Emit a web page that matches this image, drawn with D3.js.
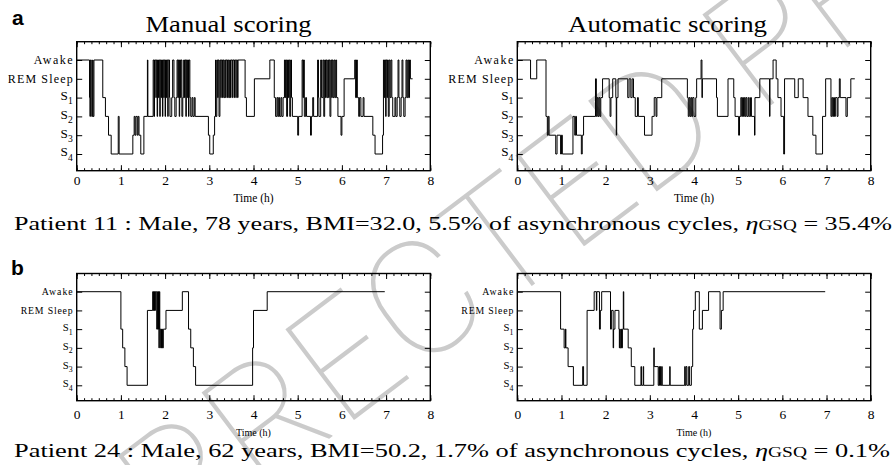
<!DOCTYPE html>
<html><head><meta charset="utf-8">
<script src="https://cdn.jsdelivr.net/npm/d3@7"></script>
<style>
body{margin:0;background:#fff} svg{display:block}
.serif{font-family:"Liberation Serif",Tinos,"Times New Roman",Times,serif}
.sans{font-family:"Liberation Sans",Arimo,Arial,Helvetica,sans-serif}
</style>
</head><body>
<svg id="c" width="893" height="465"></svg>
<script>
// Stage codes: 0=S4, 1=S3, 2=S2, 3=S1, 4=REM Sleep, 5=Awake
const stageCodes = [0,1,2,3,4,5];
const stageNames = ["S4","S3","S2","S1","REM Sleep","Awake"];
const xTickValues = [0,1,2,3,4,5,6,7,8];
const panelTitles = ["Manual scoring","Automatic scoring"];
const panelLetters = ["a","b"];
const captionMain = ["Patient 11 : Male, 78 years, BMI=32.0, 5.5% of asynchronous cycles, ",
                     "Patient 24 : Male, 62 years, BMI=50.2, 1.7% of asynchronous cycles, "];
const captionEta = ["35.4%","0.1%"];
const watermarkText = "UNCORRECTED PROOF";

// hypnograms: [time (h), stage code] change points
const p11Manual = [[0,5],
 [0.29,3],[0.30,2],[0.31,5],[0.33,3],[0.34,2],[0.36,5],[0.37,2],[0.39,5],
 [0.59,3],[0.65,2],[0.72,1],[0.78,0],[0.94,2],[0.96,0],
 [1.27,1],[1.30,2],[1.32,1],[1.34,2],[1.37,1],[1.39,2],[1.41,1],[1.45,0],[1.52,2],
 [1.60,5],[1.61,2],
 [1.73,5],[1.75,2],[1.76,5],[1.79,3],[1.80,5],[1.82,2],[1.83,5],[1.85,3],[1.86,5],[1.88,2],[1.89,5],[1.91,3],[1.92,5],[1.94,2],[1.95,5],[1.97,3],[1.98,5],[2.00,2],[2.01,5],[2.03,3],[2.04,5],[2.06,2],[2.07,5],[2.10,3],[2.11,2],[2.15,3],[2.17,5],[2.20,3],[2.22,2],[2.25,3],[2.27,5],[2.29,3],[2.30,5],[2.32,2],[2.33,5],[2.35,3],[2.36,5],[2.38,2],[2.40,3],[2.42,5],[2.44,3],[2.45,5],[2.47,2],[2.48,5],[2.50,3],[2.51,5],[2.53,2],[2.54,5],[2.56,3],[2.58,2],[2.61,3],[2.63,2],[2.66,3],[2.68,2],
 [2.98,1],[3.01,0],[3.09,1],[3.12,2],
 [3.14,5],[3.15,2],[3.17,5],[3.19,3],[3.20,5],[3.22,2],[3.24,5],[3.26,3],[3.27,5],[3.30,3],[3.31,5],[3.33,3],[3.35,5],[3.37,3],[3.38,5],[3.41,3],[3.42,5],[3.44,3],[3.46,5],[3.48,3],[3.49,5],[3.52,3],[3.53,5],[3.56,3],[3.57,5],[3.60,3],[3.61,5],[3.64,3],[3.65,5],
 [3.81,3],[3.84,2],[4.02,4],[4.37,5],[4.47,3],[4.50,2],[4.53,3],[4.55,2],[4.57,3],[4.59,2],[4.62,3],[4.64,2],[4.67,3],[4.70,5],[4.72,3],[4.73,5],[4.75,2],[4.77,5],[4.79,3],[4.80,5],[4.82,2],[4.84,5],[4.86,3],[4.88,2],[5.00,1],[5.02,2],[5.10,5],[5.12,3],[5.13,5],[5.15,2],[5.18,3],[5.20,2],[5.29,1],[5.31,2],[5.34,3],[5.36,2],[5.45,5],[5.47,3],[5.48,2],[5.52,5],[5.54,3],[5.57,5],[5.59,2],[5.61,5],[5.63,3],[5.64,5],[5.66,3],[5.68,5],[5.70,3],[5.71,5],[5.73,2],[5.75,5],[5.77,3],[5.78,5],[5.80,3],[5.82,5],[5.84,3],[5.86,5],[5.88,3],[5.91,2],[5.98,1],[6.00,2],
 [6.05,4],[6.29,5],[6.31,3],[6.33,5],[6.35,3],[6.38,2],[6.40,3],[6.43,2],[6.48,3],[6.50,2],[6.70,1],[6.75,0],[6.92,1],[6.94,5],[6.96,3],[6.97,5],[6.99,2],[7.00,5],[7.02,3],[7.03,5],[7.05,2],[7.07,5],[7.09,3],[7.11,5],[7.13,3],[7.15,2],[7.20,3],[7.22,2],[7.25,3],[7.27,5],[7.29,3],[7.31,2],[7.34,3],[7.36,5],[7.38,3],[7.40,2],[7.43,3],[7.45,5],[7.47,3],[7.49,5],[7.51,3],[7.53,5],[7.55,4],[7.60,4]];

const p11Auto = [[0,5],[0.30,4],[0.44,5],[0.65,2],[0.68,1],[0.70,2],[0.72,1],[0.87,0],[0.90,1],[0.98,0],[1.00,1],[1.02,0],
 [1.26,2],[1.30,1],[1.32,2],[1.34,1],[1.45,0],[1.47,1],[1.50,2],[1.77,4],[1.79,2],[1.81,3],[1.83,2],[1.85,3],[1.87,2],[1.89,3],[1.93,4],
 [2.08,3],[2.10,2],[2.12,3],[2.16,4],[2.23,3],[2.24,1],[2.25,3],[2.28,4],[2.50,3],[2.53,4],[2.57,3],[2.60,4],[2.63,3],[2.67,2],[2.72,3],[2.74,2],
 [2.88,1],[3.05,2],[3.10,3],[3.14,2],[3.16,3],[3.27,4],[3.85,3],[3.87,2],[3.89,3],[3.91,2],[3.93,3],[3.95,2],[3.97,3],[4.00,2],[4.04,3],[4.06,4],
 [4.16,5],[4.18,3],[4.19,4],[4.51,3],[4.53,2],[4.77,4],[4.90,3],[4.93,2],[5.01,1],[5.03,2],[5.06,3],[5.08,2],[5.10,3],[5.12,2],[5.14,3],[5.16,2],[5.18,3],[5.20,2],[5.23,3],[5.25,2],[5.28,3],[5.30,2],
 [5.37,1],[5.38,3],[5.49,4],[5.71,2],[5.72,4],[5.79,5],[5.86,4],[5.90,3],[5.97,2],[6.03,0],[6.05,4],[6.28,3],[6.36,4],[6.47,3],[6.58,2],[6.69,1],[6.76,0],[6.91,2],[6.98,4],
 [7.10,2],[7.12,3],[7.14,2],[7.16,3],[7.18,2],[7.20,3],[7.24,2],[7.26,3],[7.29,4],[7.31,3],[7.44,2],[7.47,3],[7.55,4],[7.64,4]];

const p24Manual = [[0,5],[1.00,3],[1.04,2],[1.09,1],[1.14,0],[1.60,4],[1.72,5],[1.73,4],[1.74,5],[1.75,4],[1.76,5],[1.77,4],[1.78,5],[1.81,3],[1.83,5],[1.84,3],[1.85,5],[1.86,2],[1.87,5],[1.88,3],[1.90,2],[1.91,3],[1.92,2],[1.93,3],[1.94,2],[1.96,3],[2.02,4],[2.39,5],[2.53,3],[2.58,2],[2.64,1],[2.69,0],[3.98,2],[4.00,4],[4.31,5],[6.97,5]];

const p24Auto = [[0,5],[0.98,3],[1.06,2],[1.09,3],[1.10,2],[1.15,1],[1.27,0],[1.48,1],[1.50,0],[1.58,4],[1.74,5],[1.79,4],[1.80,5],[1.86,3],[1.88,4],[1.91,5],[2.11,3],[2.13,4],[2.17,2],[2.18,3],[2.21,4],[2.30,3],[2.31,2],[2.32,3],[2.33,2],[2.35,3],[2.36,2],[2.38,3],[2.40,5],[2.41,3],[2.51,2],[2.58,1],[2.66,0],[2.80,1],[2.81,0],[2.85,1],[2.86,0],[3.09,2],[3.10,1],[3.19,0],[3.21,1],[3.22,0],[3.24,1],[3.25,0],[3.27,1],[3.28,0],[3.45,1],[3.46,0],[3.79,1],[3.80,0],[3.82,1],[3.84,0],[3.88,1],[3.90,0],[3.94,1],[3.97,3],[3.99,4],[4.03,5],[4.12,3],[4.19,4],[4.33,5],[4.59,3],[4.62,4],[4.66,5],[6.97,5]];

const svg = d3.select("#c");

// watermark (behind the chart): fit so that the 2nd "R" and following "C" land on the reference spots
const wm = svg.append("g").append("text").attr("font-family","Roboto").attr("font-weight",100)
  .attr("font-size",100).attr("fill","#cbcbcb").attr("x",0).attr("y",0).text(watermarkText);
(function placeWatermark(){
  const n = wm.node();
  const c = i => { const e = n.getExtentOfChar(i); return e.x + e.width/2; };
  const rA = [265,415], cA = [420,298];
  const dist = Math.hypot(cA[0]-rA[0], cA[1]-rA[1]);
  const ang = Math.atan2(cA[1]-rA[1], cA[0]-rA[0]) * 180/Math.PI;
  const fs = 100 * dist / (c(7) - c(5));
  wm.attr("font-size", fs);
  const midX = (c(5) + c(7)) / 2, midY = -fs*0.36;
  wm.attr("transform", `translate(${(rA[0]+cA[0])/2},${(rA[1]+cA[1])/2}) rotate(${ang}) translate(${-midX},${-midY})`);
})();

const panels = [
  {data:p11Manual, x0:76.7, x1:430.3, top:41.7, bottom:170.7, yTop:60, yBot:154, big:true, tickY:185, timeY:202},
  {data:p11Auto,   x0:517.3, x1:870.7, top:41.7, bottom:170.7, yTop:60, yBot:154, big:true, tickY:185, timeY:202},
  {data:p24Manual, x0:76.7, x1:430.3, top:273.5, bottom:400.7, yTop:291.7, yBot:385.3, big:false, tickY:419, timeY:436},
  {data:p24Auto,   x0:517.3, x1:870.7, top:273.5, bottom:400.7, yTop:291.7, yBot:385.3, big:false, tickY:419, timeY:436}
];

const minorTicks = d3.range(0, 48.5, 1).map(i => i/6);

panels.forEach(p => {
  const x = d3.scaleLinear().domain([0,8]).range([p.x0, p.x1]);
  const y = d3.scaleLinear().domain([0,5]).range([p.yBot, p.yTop]);
  const g = svg.append("g");

  const line = d3.line().x(d => x(d[0])).y(d => y(d[1])).curve(d3.curveStepAfter);
  g.append("path").datum(p.data).attr("d", line)
    .attr("fill","none").attr("stroke","#000").attr("stroke-width",1);

  const tk = (axis, tr) => {
    const a = g.append("g").attr("transform", tr).call(axis);
    a.attr("font-family", null);
    a.select(".domain").remove();
    a.selectAll("line").attr("stroke","#000").attr("stroke-width",1);
    return a;
  };
  tk(d3.axisBottom(x).tickValues(minorTicks).tickSize(-2.5).tickFormat(""), `translate(0,${p.bottom})`);
  tk(d3.axisTop(x).tickValues(minorTicks).tickSize(-2.5).tickFormat(""), `translate(0,${p.top})`);
  const xb = tk(d3.axisBottom(x).tickValues(xTickValues).tickSize(-5.5).tickFormat(d3.format("d")), `translate(0,${p.bottom})`);
  xb.selectAll("text").attr("y", p.tickY - p.bottom).attr("dy", 0).attr("class","serif")
    .attr("font-size", 13.5).attr("fill","#000");
  tk(d3.axisTop(x).tickValues(xTickValues).tickSize(-5.5).tickFormat(""), `translate(0,${p.top})`);
  tk(d3.axisLeft(y).tickValues(stageCodes).tickSize(-5.5).tickFormat(""), `translate(${p.x0},0)`);
  tk(d3.axisRight(y).tickValues(stageCodes).tickSize(-5.5).tickFormat(""), `translate(${p.x1},0)`);

  g.append("rect").attr("x",p.x0).attr("y",p.top).attr("width",p.x1-p.x0).attr("height",p.bottom-p.top)
    .attr("fill","none").attr("stroke","#000").attr("stroke-width",1.4);

  const fs = p.big ? 12 : 9.8;
  stageCodes.forEach(c => {
    const name = stageNames[c];
    const t = g.append("text").attr("class","serif").attr("x", p.x0 - 4).attr("y", y(c) + fs*0.33)
      .attr("text-anchor","end").attr("font-size", fs).attr("fill","#000");
    if (name.startsWith("S") && name.length === 2) {
      t.attr("y", y(c) + fs*0.2);
      t.append("tspan").attr("font-size", fs*1.1).text("S");
      t.append("tspan").attr("font-size", fs*0.8).attr("dy", fs*0.35).text(name[1]);
    } else {
      t.text(name).attr("textLength", p.big ? (name==="Awake"?39:65) : (name==="Awake"?31:52));
    }
  });

  g.append("text").attr("class","serif").attr("x", (p.x0+p.x1)/2).attr("y", p.timeY).attr("text-anchor","middle")
    .attr("font-size", p.big ? 11.5 : 10).attr("fill","#000").text("Time (h)");
});

svg.append("text").attr("class","serif").attr("x",145.5).attr("y",32).attr("font-size",23)
  .attr("textLength",166).attr("lengthAdjust","spacingAndGlyphs").text(panelTitles[0]);
svg.append("text").attr("class","serif").attr("x",568).attr("y",32).attr("font-size",23)
  .attr("textLength",199).attr("lengthAdjust","spacingAndGlyphs").text(panelTitles[1]);

svg.append("text").attr("class","sans").attr("x",12).attr("y",25)
  .attr("font-weight","bold").attr("font-size",21).text(panelLetters[0]);
svg.append("text").attr("class","sans").attr("x",11).attr("y",275)
  .attr("font-weight","bold").attr("font-size",21).text(panelLetters[1]);

[[230, 878],[457, 876]].forEach((pos, i) => {
  const t = svg.append("text").attr("class","serif").attr("x",14).attr("y",pos[0]).attr("font-size",19)
    .attr("textLength",pos[1]).attr("lengthAdjust","spacingAndGlyphs");
  t.append("tspan").text(captionMain[i]);
  t.append("tspan").attr("font-style","italic").text("η");
  t.append("tspan").attr("font-size",14).text("GSQ");
  t.append("tspan").text(" = " + captionEta[i]);
});
</script>
</body></html>
